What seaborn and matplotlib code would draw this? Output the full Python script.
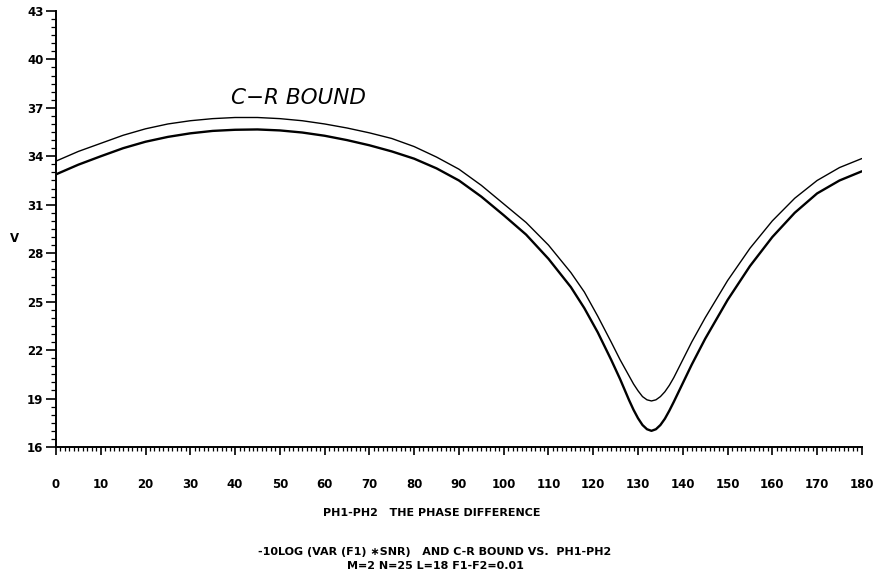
import numpy as np
import pandas as pd
import matplotlib
matplotlib.use("Agg")
import matplotlib.pyplot as plt
from matplotlib.ticker import MultipleLocator
import seaborn as sns

phase_deg = [0, 5, 10, 15, 20, 25, 30, 35, 40, 45, 50, 55, 60, 65, 70, 75, 80, 85, 90, 95,
             100, 105, 110, 115, 118, 121, 124, 126, 128, 129, 130, 131, 132, 133, 134, 135,
             136, 137, 138, 140, 142, 145, 150, 155, 160, 165, 170, 175, 180]
cr_bound = [33.70, 34.30, 34.80, 35.30, 35.70, 36.00, 36.20, 36.33, 36.40, 36.40, 36.33,
            36.20, 36.00, 35.75, 35.45, 35.10, 34.60, 33.95, 33.20, 32.20, 31.05, 29.90,
            28.50, 26.80, 25.60, 24.10, 22.50, 21.40, 20.40, 19.90, 19.48, 19.12, 18.92,
            18.85, 18.92, 19.12, 19.42, 19.82, 20.30, 21.40, 22.50, 24.00, 26.30, 28.30,
            30.00, 31.40, 32.50, 33.30, 33.86]
neg_log_var = [32.88, 33.48, 34.00, 34.50, 34.90, 35.20, 35.42, 35.57, 35.64, 35.66, 35.60,
               35.47, 35.27, 35.00, 34.68, 34.30, 33.85, 33.25, 32.50, 31.50, 30.35, 29.15,
               27.65, 25.90, 24.60, 23.10, 21.40, 20.20, 18.90, 18.30, 17.78, 17.36, 17.10,
               17.00, 17.10, 17.36, 17.75, 18.25, 18.80, 19.95, 21.10, 22.70, 25.10, 27.20,
               29.00, 30.50, 31.70, 32.50, 33.07]

x_ticks = list(range(0, 181, 10))
y_ticks = list(range(16, 44, 3))

sns.set_style("ticks")
plt.rcParams['font.family'] = ['DejaVu Sans']
plt.rcParams['text.color'] = 'black'

df = pd.DataFrame({"phase": phase_deg, "cr": cr_bound, "var": neg_log_var})

fig = plt.figure(figsize=(8.75, 5.83), dpi=100)
ax = fig.add_axes([0.064, 0.2333, 0.921, 0.748])

sns.lineplot(data=df, x="phase", y="cr", ax=ax, color="black", linewidth=1.0)
sns.lineplot(data=df, x="phase", y="var", ax=ax, color="black", linewidth=1.7)

ax.set_xlim(0, 180)
ax.set_ylim(16, 43)
ax.set_xticks(x_ticks)
ax.set_yticks(y_ticks)
ax.xaxis.set_minor_locator(MultipleLocator(1))
ax.yaxis.set_minor_locator(MultipleLocator(0.5))
for s in ["top", "right"]:
    ax.spines[s].set_visible(False)
for s in ["left", "bottom"]:
    ax.spines[s].set_linewidth(1.4)
    ax.spines[s].set_color("black")
ax.tick_params(axis="x", which="major", direction="out", length=6, width=1.2, pad=16,
               labelsize=8.5, colors="black")
ax.tick_params(axis="x", which="minor", direction="out", length=3, width=0.9, colors="black")
ax.tick_params(axis="y", which="major", direction="out", length=7, width=1.2, pad=2,
               labelsize=8.5, colors="black")
ax.tick_params(axis="y", which="minor", direction="out", length=3.5, width=0.9, colors="black")
for lab in ax.get_xticklabels() + ax.get_yticklabels():
    lab.set_fontweight("bold")

ax.set_xlabel("")
ax.set_ylabel("")
fig.text(14 / 875, 1 - 238 / 583, "V", fontsize=8.5, fontweight="bold", ha="center",
         va="center", color="black")

ax.text(39, 37.6, "C\u2212R BOUND", fontsize=15.5, fontstyle="italic", fontweight="light",
        ha="left", va="center", color="black")

fig.text(432 / 875, 1 - 513 / 583, "PH1-PH2   THE PHASE DIFFERENCE", fontsize=8,
         fontweight="bold", ha="center", va="center", color="black")
fig.text(435 / 875, 1 - 552 / 583, "-10LOG (VAR (F1) \u2217SNR)   AND C-R BOUND VS.  PH1-PH2",
         fontsize=8, fontweight="bold", ha="center", va="center", color="black")
fig.text(435 / 875, 1 - 566 / 583, "M=2 N=25 L=18 F1-F2=0.01", fontsize=8,
         fontweight="bold", ha="center", va="center", color="black")

fig.savefig("out.png", dpi=100, facecolor="white")
